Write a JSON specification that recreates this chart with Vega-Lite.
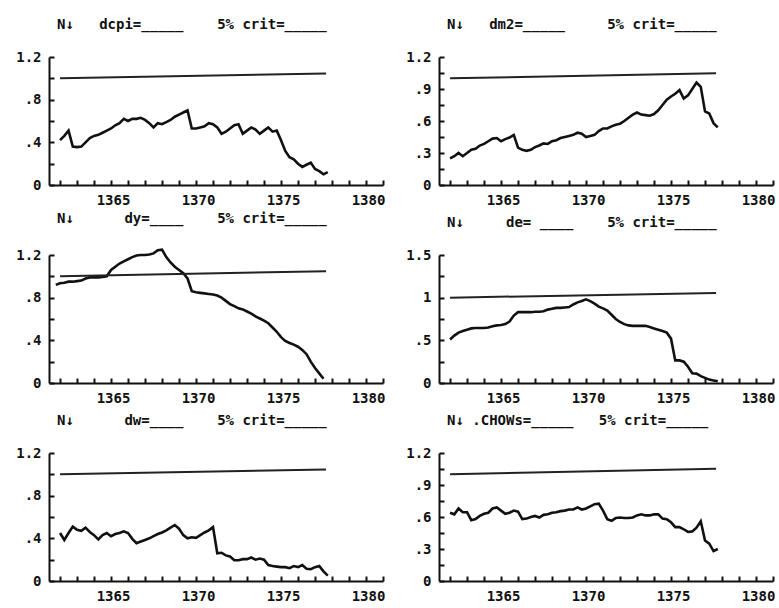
{
  "$schema": "https://vega.github.io/schema/vega-lite/v6.json",
  "background": "white",
  "padding": {"left": 15, "top": 18, "right": 0, "bottom": 0},
  "bounds": "flush",
  "datasets": {
    "series": [
      {"t": 1360.75, "dy": 0.92},
      {"t": 1361, "dcpi": 0.42, "dm2": 0.25, "dy": 0.935, "de": 0.51, "dw": 0.45, "chow": 0.64},
      {"t": 1361.25, "dcpi": 0.46, "dm2": 0.27, "dy": 0.94, "de": 0.555, "dw": 0.385, "chow": 0.625},
      {"t": 1361.5, "dcpi": 0.51, "dm2": 0.30, "dy": 0.95, "de": 0.59, "dw": 0.45, "chow": 0.68},
      {"t": 1361.75, "dcpi": 0.36, "dm2": 0.27, "dy": 0.95, "de": 0.61, "dw": 0.51, "chow": 0.645},
      {"t": 1362, "dcpi": 0.355, "dm2": 0.30, "dy": 0.955, "de": 0.625, "dw": 0.48, "chow": 0.645},
      {"t": 1362.25, "dcpi": 0.36, "dm2": 0.33, "dy": 0.96, "de": 0.64, "dw": 0.47, "chow": 0.57},
      {"t": 1362.5, "dcpi": 0.40, "dm2": 0.34, "dy": 0.98, "de": 0.645, "dw": 0.50, "chow": 0.58},
      {"t": 1362.75, "dcpi": 0.44, "dm2": 0.37, "dy": 0.99, "de": 0.645, "dw": 0.46, "chow": 0.61},
      {"t": 1363, "dcpi": 0.46, "dm2": 0.385, "dy": 0.99, "de": 0.645, "dw": 0.43, "chow": 0.63},
      {"t": 1363.25, "dcpi": 0.47, "dm2": 0.41, "dy": 0.99, "de": 0.65, "dw": 0.39, "chow": 0.64},
      {"t": 1363.5, "dcpi": 0.49, "dm2": 0.435, "dy": 0.995, "de": 0.665, "dw": 0.43, "chow": 0.68},
      {"t": 1363.75, "dcpi": 0.51, "dm2": 0.44, "dy": 1.0, "de": 0.675, "dw": 0.45, "chow": 0.69},
      {"t": 1364, "dcpi": 0.53, "dm2": 0.41, "dy": 1.06, "de": 0.68, "dw": 0.42, "chow": 0.66},
      {"t": 1364.25, "dcpi": 0.56, "dm2": 0.43, "dy": 1.09, "de": 0.69, "dw": 0.44, "chow": 0.63},
      {"t": 1364.5, "dcpi": 0.58, "dm2": 0.445, "dy": 1.12, "de": 0.72, "dw": 0.45, "chow": 0.64},
      {"t": 1364.75, "dcpi": 0.62, "dm2": 0.47, "dy": 1.14, "de": 0.79, "dw": 0.465, "chow": 0.66},
      {"t": 1365, "dcpi": 0.60, "dm2": 0.35, "dy": 1.16, "de": 0.83, "dw": 0.45, "chow": 0.65},
      {"t": 1365.25, "dcpi": 0.62, "dm2": 0.33, "dy": 1.18, "de": 0.83, "dw": 0.395, "chow": 0.58},
      {"t": 1365.5, "dcpi": 0.62, "dm2": 0.32, "dy": 1.195, "de": 0.83, "dw": 0.355, "chow": 0.585},
      {"t": 1365.75, "dcpi": 0.63, "dm2": 0.33, "dy": 1.20, "de": 0.83, "dw": 0.37, "chow": 0.60},
      {"t": 1366, "dcpi": 0.61, "dm2": 0.355, "dy": 1.20, "de": 0.835, "dw": 0.385, "chow": 0.61},
      {"t": 1366.25, "dcpi": 0.58, "dm2": 0.37, "dy": 1.205, "de": 0.835, "dw": 0.40, "chow": 0.595},
      {"t": 1366.5, "dcpi": 0.54, "dm2": 0.39, "dy": 1.215, "de": 0.84, "dw": 0.42, "chow": 0.62},
      {"t": 1366.75, "dcpi": 0.58, "dm2": 0.385, "dy": 1.245, "de": 0.86, "dw": 0.44, "chow": 0.625},
      {"t": 1367, "dcpi": 0.57, "dm2": 0.41, "dy": 1.25, "de": 0.87, "dw": 0.455, "chow": 0.64},
      {"t": 1367.25, "dcpi": 0.59, "dm2": 0.42, "dy": 1.18, "de": 0.88, "dw": 0.475, "chow": 0.645},
      {"t": 1367.5, "dcpi": 0.61, "dm2": 0.44, "dy": 1.13, "de": 0.88, "dw": 0.50, "chow": 0.655},
      {"t": 1367.75, "dcpi": 0.64, "dm2": 0.45, "dy": 1.09, "de": 0.885, "dw": 0.525, "chow": 0.66},
      {"t": 1368, "dcpi": 0.66, "dm2": 0.46, "dy": 1.06, "de": 0.89, "dw": 0.49, "chow": 0.67},
      {"t": 1368.25, "dcpi": 0.68, "dm2": 0.47, "dy": 1.03, "de": 0.92, "dw": 0.43, "chow": 0.67},
      {"t": 1368.5, "dcpi": 0.70, "dm2": 0.49, "dy": 0.98, "de": 0.945, "dw": 0.40, "chow": 0.69},
      {"t": 1368.75, "dcpi": 0.53, "dm2": 0.48, "dy": 0.86, "de": 0.96, "dw": 0.41, "chow": 0.67},
      {"t": 1369, "dcpi": 0.53, "dm2": 0.45, "dy": 0.85, "de": 0.98, "dw": 0.405, "chow": 0.68},
      {"t": 1369.25, "dcpi": 0.54, "dm2": 0.46, "dy": 0.845, "de": 0.96, "dw": 0.43, "chow": 0.70},
      {"t": 1369.5, "dcpi": 0.55, "dm2": 0.47, "dy": 0.84, "de": 0.93, "dw": 0.455, "chow": 0.72},
      {"t": 1369.75, "dcpi": 0.58, "dm2": 0.505, "dy": 0.835, "de": 0.895, "dw": 0.475, "chow": 0.725},
      {"t": 1370, "dcpi": 0.57, "dm2": 0.53, "dy": 0.83, "de": 0.875, "dw": 0.505, "chow": 0.66},
      {"t": 1370.25, "dcpi": 0.54, "dm2": 0.53, "dy": 0.82, "de": 0.85, "dw": 0.26, "chow": 0.58},
      {"t": 1370.5, "dcpi": 0.48, "dm2": 0.55, "dy": 0.80, "de": 0.80, "dw": 0.265, "chow": 0.565},
      {"t": 1370.75, "dcpi": 0.50, "dm2": 0.565, "dy": 0.77, "de": 0.75, "dw": 0.24, "chow": 0.59},
      {"t": 1371, "dcpi": 0.53, "dm2": 0.575, "dy": 0.74, "de": 0.715, "dw": 0.23, "chow": 0.595},
      {"t": 1371.25, "dcpi": 0.56, "dm2": 0.60, "dy": 0.72, "de": 0.69, "dw": 0.195, "chow": 0.59},
      {"t": 1371.5, "dcpi": 0.57, "dm2": 0.63, "dy": 0.70, "de": 0.675, "dw": 0.195, "chow": 0.59},
      {"t": 1371.75, "dcpi": 0.48, "dm2": 0.66, "dy": 0.69, "de": 0.67, "dw": 0.205, "chow": 0.595},
      {"t": 1372, "dcpi": 0.51, "dm2": 0.68, "dy": 0.67, "de": 0.67, "dw": 0.205, "chow": 0.615},
      {"t": 1372.25, "dcpi": 0.54, "dm2": 0.66, "dy": 0.65, "de": 0.67, "dw": 0.22, "chow": 0.625},
      {"t": 1372.5, "dcpi": 0.52, "dm2": 0.655, "dy": 0.625, "de": 0.67, "dw": 0.20, "chow": 0.615},
      {"t": 1372.75, "dcpi": 0.48, "dm2": 0.65, "dy": 0.605, "de": 0.655, "dw": 0.21, "chow": 0.615},
      {"t": 1373, "dcpi": 0.51, "dm2": 0.665, "dy": 0.585, "de": 0.64, "dw": 0.20, "chow": 0.625},
      {"t": 1373.25, "dcpi": 0.54, "dm2": 0.70, "dy": 0.56, "de": 0.625, "dw": 0.15, "chow": 0.625},
      {"t": 1373.5, "dcpi": 0.50, "dm2": 0.75, "dy": 0.52, "de": 0.61, "dw": 0.14, "chow": 0.585},
      {"t": 1373.75, "dcpi": 0.51, "dm2": 0.80, "dy": 0.48, "de": 0.59, "dw": 0.135, "chow": 0.58},
      {"t": 1374, "dcpi": 0.42, "dm2": 0.83, "dy": 0.43, "de": 0.52, "dw": 0.13, "chow": 0.55},
      {"t": 1374.25, "dcpi": 0.32, "dm2": 0.855, "dy": 0.395, "de": 0.265, "dw": 0.13, "chow": 0.505},
      {"t": 1374.5, "dcpi": 0.26, "dm2": 0.89, "dy": 0.375, "de": 0.265, "dw": 0.12, "chow": 0.505},
      {"t": 1374.75, "dcpi": 0.24, "dm2": 0.81, "dy": 0.36, "de": 0.25, "dw": 0.14, "chow": 0.485},
      {"t": 1375, "dcpi": 0.20, "dm2": 0.84, "dy": 0.34, "de": 0.19, "dw": 0.13, "chow": 0.46},
      {"t": 1375.25, "dcpi": 0.17, "dm2": 0.90, "dy": 0.31, "de": 0.115, "dw": 0.15, "chow": 0.465},
      {"t": 1375.5, "dcpi": 0.19, "dm2": 0.96, "dy": 0.27, "de": 0.11, "dw": 0.115, "chow": 0.50},
      {"t": 1375.75, "dcpi": 0.21, "dm2": 0.92, "dy": 0.20, "de": 0.08, "dw": 0.11, "chow": 0.56},
      {"t": 1376, "dcpi": 0.15, "dm2": 0.69, "dy": 0.14, "de": 0.06, "dw": 0.13, "chow": 0.38},
      {"t": 1376.25, "dcpi": 0.13, "dm2": 0.67, "dy": 0.09, "de": 0.04, "dw": 0.14, "chow": 0.35},
      {"t": 1376.5, "dcpi": 0.10, "dm2": 0.58, "dy": 0.04, "de": 0.03, "dw": 0.09, "chow": 0.28},
      {"t": 1376.75, "dcpi": 0.12, "dm2": 0.54, "de": 0.02, "dw": 0.05, "chow": 0.30}
    ],
    "crit": [
      {"t": 1361, "dcpi": 1.0, "dm2": 1.0, "dy": 1.0, "de": 1.0, "dw": 1.0, "chow": 1.0},
      {"t": 1376.65, "dcpi": 1.045, "dm2": 1.047, "dy": 1.048, "de": 1.056, "dw": 1.045, "chow": 1.053}
    ]
  },
  "columns": 2,
  "spacing": {"row": 70, "column": 56},
  "concat": [
    {
      "title": {"text": "N↓\u00a0\u00a0\u00a0dcpi=_____\u00a0\u00a0\u00a0\u00a05%\u00a0crit=_____"},
      "width": 334, "height": 128,
      "encoding": {
        "x": {"field": "t", "type": "quantitative", "scale": {"domain": [1360.35, 1380], "nice": false, "zero": false},
              "axis": {"title": null, "ticks": true, "tickSize": -5, "tickColor": "#111", "tickWidth": 2, "labelPadding": 13, "labelOffset": -15, "values": [1361,1362,1363,1364,1365,1366,1367,1368,1369,1370,1371,1372,1373,1374,1375,1376,1377,1378,1379,1380], "labelExpr": "datum.value % 5 == 0 ? '' + datum.value : ''"}},
        "y": {"field": "dcpi", "type": "quantitative", "scale": {"domain": [0, 1.2], "nice": false},
              "axis": {"title": null, "ticks": true, "tickSize": -5, "tickColor": "#111", "tickWidth": 2, "labelPadding": 13, "values": [0,0.2,0.4,0.6,0.8,1,1.2], "labelExpr": "round(datum.value*10) % 4 == 0 ? (datum.value > 0 && datum.value < 1 ? substring(format(datum.value, '.1f'), 1) : format(datum.value, '~g')) : ''"}}
      },
      "layer": [
        {"data": {"name": "series"}, "mark": {"type": "line", "color": "#111", "strokeWidth": 2.6, "clip": false}},
        {"data": {"name": "crit"}, "mark": {"type": "line", "color": "#222", "strokeWidth": 2}}
      ]
    },
    {
      "title": {"text": "N↓\u00a0\u00a0\u00a0dm2=_____\u00a0\u00a0\u00a0\u00a0\u00a05%\u00a0crit=_____"},
      "width": 334, "height": 128,
      "encoding": {
        "x": {"field": "t", "type": "quantitative", "scale": {"domain": [1360.35, 1380], "nice": false, "zero": false},
              "axis": {"title": null, "ticks": true, "tickSize": -5, "tickColor": "#111", "tickWidth": 2, "labelPadding": 13, "labelOffset": -15, "values": [1361,1362,1363,1364,1365,1366,1367,1368,1369,1370,1371,1372,1373,1374,1375,1376,1377,1378,1379,1380], "labelExpr": "datum.value % 5 == 0 ? '' + datum.value : ''"}},
        "y": {"field": "dm2", "type": "quantitative", "scale": {"domain": [0, 1.2], "nice": false},
              "axis": {"title": null, "ticks": true, "tickSize": -5, "tickColor": "#111", "tickWidth": 2, "labelPadding": 13, "values": [0,0.15,0.3,0.45,0.6,0.75,0.9,1.05,1.2], "labelExpr": "round(datum.value*100) % 30 == 0 ? (datum.value > 0 && datum.value < 1 ? substring(format(datum.value, '.1f'), 1) : format(datum.value, '~g')) : ''"}}
      },
      "layer": [
        {"data": {"name": "series"}, "mark": {"type": "line", "color": "#111", "strokeWidth": 2.6, "clip": false}},
        {"data": {"name": "crit"}, "mark": {"type": "line", "color": "#222", "strokeWidth": 2}}
      ]
    },
    {
      "title": {"text": "N↓\u00a0\u00a0\u00a0\u00a0\u00a0\u00a0dy=____\u00a0\u00a0\u00a0\u00a05%\u00a0crit=_____"},
      "width": 334, "height": 128,
      "encoding": {
        "x": {"field": "t", "type": "quantitative", "scale": {"domain": [1360.35, 1380], "nice": false, "zero": false},
              "axis": {"title": null, "ticks": true, "tickSize": -5, "tickColor": "#111", "tickWidth": 2, "labelPadding": 13, "labelOffset": -15, "values": [1361,1362,1363,1364,1365,1366,1367,1368,1369,1370,1371,1372,1373,1374,1375,1376,1377,1378,1379,1380], "labelExpr": "datum.value % 5 == 0 ? '' + datum.value : ''"}},
        "y": {"field": "dy", "type": "quantitative", "scale": {"domain": [0, 1.2], "nice": false},
              "axis": {"title": null, "ticks": true, "tickSize": -5, "tickColor": "#111", "tickWidth": 2, "labelPadding": 13, "values": [0,0.2,0.4,0.6,0.8,1,1.2], "labelExpr": "round(datum.value*10) % 4 == 0 ? (datum.value > 0 && datum.value < 1 ? substring(format(datum.value, '.1f'), 1) : format(datum.value, '~g')) : ''"}}
      },
      "layer": [
        {"data": {"name": "series"}, "mark": {"type": "line", "color": "#111", "strokeWidth": 2.6, "clip": false}},
        {"data": {"name": "crit"}, "mark": {"type": "line", "color": "#222", "strokeWidth": 2}}
      ]
    },
    {
      "title": {"text": "N↓\u00a0\u00a0\u00a0\u00a0\u00a0de=\u00a0____\u00a0\u00a0\u00a0\u00a05%\u00a0crit=_____"},
      "width": 334, "height": 128,
      "encoding": {
        "x": {"field": "t", "type": "quantitative", "scale": {"domain": [1360.35, 1380], "nice": false, "zero": false},
              "axis": {"title": null, "ticks": true, "tickSize": -5, "tickColor": "#111", "tickWidth": 2, "labelPadding": 13, "labelOffset": -15, "values": [1361,1362,1363,1364,1365,1366,1367,1368,1369,1370,1371,1372,1373,1374,1375,1376,1377,1378,1379,1380], "labelExpr": "datum.value % 5 == 0 ? '' + datum.value : ''"}},
        "y": {"field": "de", "type": "quantitative", "scale": {"domain": [0, 1.5], "nice": false},
              "axis": {"title": null, "ticks": true, "tickSize": -5, "tickColor": "#111", "tickWidth": 2, "labelPadding": 13, "values": [0,0.25,0.5,0.75,1,1.25,1.5], "labelExpr": "round(datum.value*100) % 50 == 0 ? (datum.value > 0 && datum.value < 1 ? substring(format(datum.value, '.1f'), 1) : format(datum.value, '~g')) : ''"}}
      },
      "layer": [
        {"data": {"name": "series"}, "mark": {"type": "line", "color": "#111", "strokeWidth": 2.6, "clip": false}},
        {"data": {"name": "crit"}, "mark": {"type": "line", "color": "#222", "strokeWidth": 2}}
      ]
    },
    {
      "title": {"text": "N↓\u00a0\u00a0\u00a0\u00a0\u00a0\u00a0dw=____\u00a0\u00a0\u00a0\u00a05%\u00a0crit=_____"},
      "width": 334, "height": 128,
      "encoding": {
        "x": {"field": "t", "type": "quantitative", "scale": {"domain": [1360.35, 1380], "nice": false, "zero": false},
              "axis": {"title": null, "ticks": true, "tickSize": -5, "tickColor": "#111", "tickWidth": 2, "labelPadding": 13, "labelOffset": -15, "values": [1361,1362,1363,1364,1365,1366,1367,1368,1369,1370,1371,1372,1373,1374,1375,1376,1377,1378,1379,1380], "labelExpr": "datum.value % 5 == 0 ? '' + datum.value : ''"}},
        "y": {"field": "dw", "type": "quantitative", "scale": {"domain": [0, 1.2], "nice": false},
              "axis": {"title": null, "ticks": true, "tickSize": -5, "tickColor": "#111", "tickWidth": 2, "labelPadding": 13, "values": [0,0.2,0.4,0.6,0.8,1,1.2], "labelExpr": "round(datum.value*10) % 4 == 0 ? (datum.value > 0 && datum.value < 1 ? substring(format(datum.value, '.1f'), 1) : format(datum.value, '~g')) : ''"}}
      },
      "layer": [
        {"data": {"name": "series"}, "mark": {"type": "line", "color": "#111", "strokeWidth": 2.6, "clip": false}},
        {"data": {"name": "crit"}, "mark": {"type": "line", "color": "#222", "strokeWidth": 2}}
      ]
    },
    {
      "title": {"text": "N↓\u00a0.CHOWs=_____\u00a0\u00a0\u00a05%\u00a0crit=_____"},
      "width": 334, "height": 128,
      "encoding": {
        "x": {"field": "t", "type": "quantitative", "scale": {"domain": [1360.35, 1380], "nice": false, "zero": false},
              "axis": {"title": null, "ticks": true, "tickSize": -5, "tickColor": "#111", "tickWidth": 2, "labelPadding": 13, "labelOffset": -15, "values": [1361,1362,1363,1364,1365,1366,1367,1368,1369,1370,1371,1372,1373,1374,1375,1376,1377,1378,1379,1380], "labelExpr": "datum.value % 5 == 0 ? '' + datum.value : ''"}},
        "y": {"field": "chow", "type": "quantitative", "scale": {"domain": [0, 1.2], "nice": false},
              "axis": {"title": null, "ticks": true, "tickSize": -5, "tickColor": "#111", "tickWidth": 2, "labelPadding": 13, "values": [0,0.15,0.3,0.45,0.6,0.75,0.9,1.05,1.2], "labelExpr": "round(datum.value*100) % 30 == 0 ? (datum.value > 0 && datum.value < 1 ? substring(format(datum.value, '.1f'), 1) : format(datum.value, '~g')) : ''"}}
      },
      "layer": [
        {"data": {"name": "series"}, "mark": {"type": "line", "color": "#111", "strokeWidth": 2.6, "clip": false}},
        {"data": {"name": "crit"}, "mark": {"type": "line", "color": "#222", "strokeWidth": 2}}
      ]
    }
  ],
  "config": {
    "view": {"stroke": null},
    "font": "DejaVu Sans Mono",
    "axis": {
      "domainColor": "#111", "domainWidth": 2,
      "labelFont": "DejaVu Sans Mono", "labelFontWeight": "bold", "labelFontSize": 14, "labelColor": "#111",
      "grid": false, "labelFlush": false, "labelOverlap": false, "labelBound": false
    },
    "title": {"font": "DejaVu Sans Mono", "fontWeight": "bold", "fontSize": 14, "color": "#111", "anchor": "start", "frame": "group", "dx": 8, "offset": 18}
  }
}
